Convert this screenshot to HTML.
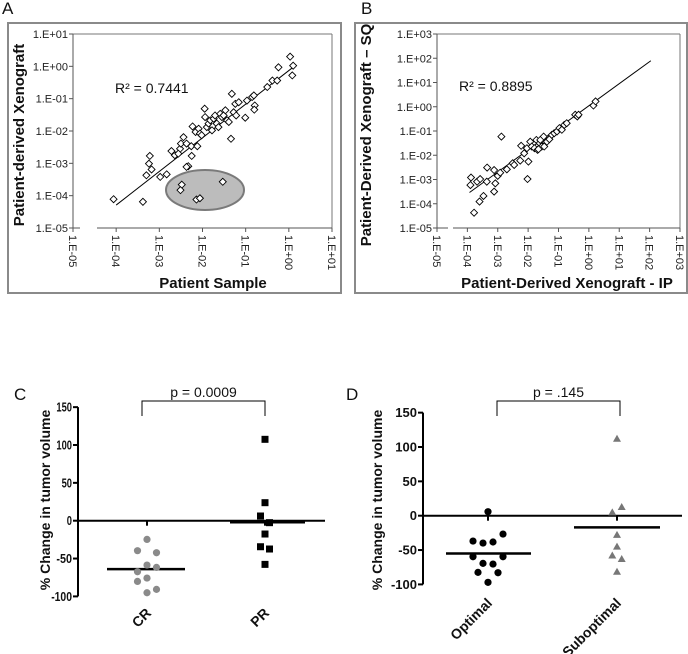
<!DOCTYPE html>
<html><head><meta charset="utf-8"><style>
html,body{margin:0;padding:0;background:#fff;width:688px;height:654px;overflow:hidden}
svg{font-family:"Liberation Sans",Arial,sans-serif}
</style></head><body>
<svg id="fig" width="688" height="654" viewBox="0 0 688 654" xmlns="http://www.w3.org/2000/svg">
<rect width="688" height="654" fill="#fff"/>
<g id="pa"></g>
<g id="pb"></g>
<g id="pc"></g>
<g id="pd"></g>
</svg>
<script>
// Panel A data (log10 values)
const aXLog=[-4.06,-3.38,-3.22,-3.24,-3.30,-3.18,-2.98,-2.83,-2.72,-2.64,-2.52,-2.50,-2.44,-2.56,-2.37,-2.26,-2.25,-2.12,-2.23,-2.16,-2.09,-2.06,-2.02,-1.95,-1.94,-1.90,-1.86,-1.82,-1.78,-1.74,-1.71,-1.67,-1.63,-1.59,-1.55,-1.51,-1.47,-1.43,-1.39,-1.32,-1.28,-1.34,-1.24,-1.22,-1.16,-1.01,-0.97,-0.85,-0.81,-0.79,-0.80,-0.50,-0.38,-0.27,-0.24,0.03,0.08,0.10,-2.33,-2.37,-2.48,-2.51,-2.14,-2.06,-1.53];
const aYLog=[-4.11,-4.19,-2.77,-3.01,-3.37,-3.19,-3.42,-3.34,-2.62,-2.75,-2.55,-2.39,-2.19,-2.70,-2.39,-2.47,-2.77,-2.47,-1.86,-2.03,-1.93,-2.08,-2.13,-1.31,-1.57,-1.88,-1.77,-1.67,-1.98,-1.62,-1.52,-1.77,-1.88,-1.47,-1.57,-1.52,-1.36,-1.67,-1.72,-0.85,-1.42,-2.24,-1.16,-1.52,-1.11,-1.59,-1.06,-0.95,-0.90,-1.21,-1.34,-0.64,-0.44,-0.44,-0.03,0.30,-0.28,0.02,-3.09,-3.11,-3.66,-3.83,-4.12,-4.08,-3.57];
const aFit=[1.04,-0.13];
const aFitRange=[-4.0,0.1];
const aXTicks=["1.E-05","1.E-04","1.E-03","1.E-02","1.E-01","1.E+00","1.E+01"];
const aYTicks=["1.E-05","1.E-04","1.E-03","1.E-02","1.E-01","1.E+00","1.E+01"];
// Panel B data (log10 values)
const bXLog=[-3.88,-3.90,-3.68,-3.58,-3.60,-3.47,-3.78,-3.36,-3.35,-3.12,-3.08,-3.12,-3.00,-2.92,-2.88,-2.70,-2.51,-2.46,-2.26,-2.23,-2.13,-2.04,-1.99,-2.02,-1.93,-1.88,-1.79,-1.73,-1.69,-1.62,-1.55,-1.49,-1.38,-1.30,-1.22,-1.14,-1.05,-0.97,-0.89,-0.81,-0.73,-0.45,-0.38,-0.34,0.15,0.22,-1.66,-1.60,-1.47];
const bYLog=[-2.92,-3.23,-3.09,-2.98,-3.91,-3.68,-4.37,-3.09,-2.51,-2.61,-3.16,-3.50,-2.85,-2.72,-1.23,-2.58,-2.33,-2.40,-2.22,-1.61,-1.92,-1.71,-2.26,-2.98,-1.44,-1.64,-1.71,-1.37,-1.78,-1.50,-1.64,-1.23,-1.44,-1.34,-1.16,-1.09,-1.02,-0.88,-0.95,-0.75,-0.68,-0.33,-0.40,-0.33,0.05,0.22,-1.75,-1.37,-1.64];
const bFit=[0.91,0.04];
const bFitRange=[-3.93,2.04];
const bXTicks=["1.E-05","1.E-04","1.E-03","1.E-02","1.E-01","1.E+00","1.E+01","1.E+02","1.E+03"];
const bYTicks=["1.E-05","1.E-04","1.E-03","1.E-02","1.E-01","1.E+00","1.E+01","1.E+02","1.E+03"];
// Panel C data
const cCategories=["CR","PR"];
const cCR=[-24.7,-39.6,-42.3,-58.6,-61.7,-67.4,-75.8,-80.2,-95.2,-90.7];
const cCRJitter=[0,-1,1,0,1,-1,0,-1,0,1];
const cPR=[107.5,23.8,6.2,-2.6,-17.6,-34.4,-37.4,-57.7];
const cPRJitter=[0,0,-1,1,0,-1,1,0];
const cMedians=[-64,-2];
// Panel D data
const dCategories=["Optimal","Suboptimal"];
const dOpt=[5.8,-26.7,-36.9,-39.8,-38.3,-59.7,-59.7,-69.4,-70.4,-82.5,-83,-97];
const dOptJitter=[0,1.5,-1.5,-0.5,0.5,-1.5,1.5,-0.5,0.5,-1,1,0];
const dSub=[112,12.6,4.9,-28,-45,-58,-63,-81.5];
const dSubJitter=[0,1,-1,0,0,-1,1,0];
const dMedians=[-55,-17];
const yTicksCD=[150,100,50,0,-50,-100];

const NS="http://www.w3.org/2000/svg";
function mk(parent,tag,attrs,txt){const e=document.createElementNS(NS,tag);for(const k in attrs)e.setAttribute(k,attrs[k]);if(txt!==undefined)e.textContent=txt;parent.appendChild(e);return e;}

function logPanel(g,o){
  mk(g,'rect',{x:o.box[0],y:o.box[1],width:o.box[2],height:o.box[3],fill:'none',stroke:'#8a8a8a','stroke-width':2});
  const sx=v=>o.x0+(v-o.xmin)/(o.xmax-o.xmin)*(o.x1-o.x0);
  const sy=v=>o.y1-(v-o.ymin)/(o.ymax-o.ymin)*(o.y1-o.y0);
  mk(g,'line',{x1:o.x1,y1:o.y0,x2:o.x1,y2:o.y1,stroke:'#777','stroke-width':1});
  mk(g,'line',{x1:o.x0,y1:o.y0,x2:o.x1,y2:o.y0,stroke:'#777','stroke-width':1});
  mk(g,'line',{x1:o.x0,y1:o.y0,x2:o.x0,y2:o.y1,stroke:'#555','stroke-width':1});
  mk(g,'line',{x1:o.x0,y1:o.y1,x2:o.gap[0],y2:o.y1,stroke:'#555','stroke-width':1});
  mk(g,'line',{x1:o.gap[1],y1:o.y1,x2:o.x1,y2:o.y1,stroke:'#555','stroke-width':1});
  o.yTicks.forEach((t,i)=>{const y=sy(o.ymin+i);
    const l=mk(g,'line',{x1:o.x0-4,y1:y,x2:o.x0,y2:y,stroke:'#555'});
    
    
    const tx=mk(g,'text',{x:o.x0-5,y:y+4,'text-anchor':'end','font-size':11,fill:'#222'},t);
    
    
  });
  o.xTicks.forEach((t,i)=>{const x=sx(o.xmin+i);
    const l=mk(g,'line',{x1:x,y1:o.y1,x2:x,y2:o.y1+4,stroke:'#555'});
    
    
    const tx=mk(g,'text',{x:0,y:0,'font-size':11,fill:'#222',transform:`translate(${x-4},${o.y1+7}) rotate(90)`},t);
    
    
  });
  if(o.ellipse){const e=mk(g,'ellipse',{cx:o.ellipse[0],cy:o.ellipse[1],rx:o.ellipse[2],ry:o.ellipse[3],fill:'#bcbcbc',stroke:'#7a7a7a','stroke-width':2});
    
    }
  const fl=mk(g,'line',{x1:sx(o.fr[0]),y1:sy(o.fit[0]*o.fr[0]+o.fit[1]),x2:sx(o.fr[1]),y2:sy(o.fit[0]*o.fr[1]+o.fit[1]),stroke:'#000','stroke-width':1});
  
  
  o.xs.forEach((xv,i)=>{const x=sx(xv),y=sy(o.ys[i]);
    const p=mk(g,'path',{d:`M${x},${y-3.5}L${x+3.5},${y}L${x},${y+3.5}L${x-3.5},${y}Z`,fill:'#fff',stroke:'#000','stroke-width':0.9});
    
    
  });
  const r=mk(g,'text',{x:o.r2[0],y:o.r2[1],'font-size':14,fill:'#111'},o.r2[2]);
  
  
  const xt=mk(g,'text',{x:o.xt[0],y:o.xt[1],'font-size':15,'font-weight':'bold','text-anchor':'middle',fill:'#111'},o.xt[2]);
  
  
  const yt=mk(g,'text',{x:0,y:0,'font-size':15,'font-weight':'bold','text-anchor':'middle',fill:'#111',transform:`translate(${o.yt[0]},${o.yt[1]}) rotate(-90)`},o.yt[2]);
  
  
  const pl=mk(g,'text',{x:o.lbl[0],y:o.lbl[1],'font-size':17,fill:'#111'},o.lbl[2]);
  
  
}

logPanel(document.getElementById('pa'),{box:[8,23,333,270],x0:73,x1:332,y0:34,y1:228,xmin:-5,xmax:1,ymin:-5,ymax:1,gap:[80,97],
  xs:aXLog,ys:aYLog,fit:aFit,fr:aFitRange,xTicks:aXTicks,yTicks:aYTicks,ellipse:[205,190,39,20],
  r2:[115,93,'R² = 0.7441'],xt:[213,288,'Patient Sample'],yt:[24,135,'Patient-derived Xenograft'],lbl:[2,14,'A']});
logPanel(document.getElementById('pb'),{box:[355,23,332,270],x0:437,x1:680,y0:34,y1:228,xmin:-5,xmax:3,ymin:-5,ymax:3,gap:[448,453],
  xs:bXLog,ys:bYLog,fit:bFit,fr:bFitRange,xTicks:bXTicks,yTicks:bYTicks,
  r2:[459,91,'R² = 0.8895'],xt:[567,288,'Patient-Derived Xenograft -  IP'],yt:[371,135,'Patient-Derived Xenograft – SQ'],lbl:[361,14,'B']});

function dotPanel(g,o){
  const sy=v=>o.yZero-v*o.k;
  mk(g,'line',{x1:o.ax,y1:sy(150),x2:o.ax,y2:sy(-100),stroke:'#000','stroke-width':2});
  yTicksCD.forEach(t=>{const y=sy(t);
    const l=mk(g,'line',{x1:o.ax-5,y1:y,x2:o.ax,y2:y,stroke:'#000','stroke-width':2});
    
    
    const tx=mk(g,'text',{x:o.ax-6,y:y+4.5,'text-anchor':'end','font-size':o.tfs,'font-weight':'bold',fill:'#111'},String(t));
    if(o.tlen){const s=String(t);tx.setAttribute('textLength',(s.length*o.tlen).toFixed(1));tx.setAttribute('lengthAdjust','spacingAndGlyphs');}
    
    
  });
  const z=mk(g,'line',{x1:o.ax,y1:sy(0),x2:o.zEnd,y2:sy(0),stroke:'#000','stroke-width':2});
  
  
  o.cx.forEach(x=>{mk(g,'line',{x1:x,y1:sy(0),x2:x,y2:sy(0)+5,stroke:'#000','stroke-width':2});});
  const b=mk(g,'path',{d:`M${o.br[0]},${o.br[3]}V${o.br[2]}H${o.br[1]}V${o.br[3]}`,fill:'none',stroke:'#000','stroke-width':1});
  
  
  const p=mk(g,'text',{x:(o.br[0]+o.br[1])/2,y:o.br[2]-4,'text-anchor':'middle','font-size':14,fill:'#111'},o.pText);
  
  
  o.meds.forEach((m,i)=>{const l=mk(g,'line',{x1:o.medX[i][0],y1:sy(m),x2:o.medX[i][1],y2:sy(m),stroke:'#000','stroke-width':2.5});
    
    });
  o.series.forEach((s,si)=>{s.vals.forEach((v,i)=>{const x=o.cx[si]+s.jit[i]*s.dx,y=sy(v);let e;
    if(s.shape==='circle')e=mk(g,'circle',{cx:x,cy:y,r:s.r,fill:s.color});
    else if(s.shape==='square')e=mk(g,'rect',{x:x-3.5,y:y-3.5,width:7,height:7,fill:s.color});
    else e=mk(g,'path',{d:`M${x},${y-4}L${x+4},${y+3}L${x-4},${y+3}Z`,fill:s.color});
    
    
  });});
  o.cats.forEach((c,i)=>{const t=mk(g,'text',{x:0,y:0,'text-anchor':'end','font-size':14,'font-weight':'bold',fill:'#111',transform:`translate(${o.cx[i]+5},${o.catY}) rotate(-45)`},c);
    
    });
  const yt=mk(g,'text',{x:0,y:0,'text-anchor':'middle','font-size':14,'font-weight':'bold',fill:'#111',transform:`translate(${o.yt[0]},${o.yt[1]}) rotate(-90)`},'% Change in tumor volume');
  
  
  const pl=mk(g,'text',{x:o.lbl[0],y:o.lbl[1],'font-size':17,fill:'#111'},o.lbl[2]);
  
  
}

dotPanel(document.getElementById('pc'),{ax:78,yZero:520.7,k:0.757,zEnd:325,cx:[147,265],br:[142,265,401,416],pText:'p = 0.0009',
  tfs:13,tlen:5.2,
  meds:cMedians,medX:[[107,185],[230,305]],cats:cCategories,catY:614,yt:[50,500],lbl:[14,400,'C'],
  series:[{vals:cCR,jit:cCRJitter,dx:9.5,shape:'circle',r:3.6,color:'#8a8a8a'},{vals:cPR,jit:cPRJitter,dx:4.5,shape:'square',color:'#000'}]});
dotPanel(document.getElementById('pd'),{ax:423,yZero:515.7,k:0.687,zEnd:682,cx:[488,617],br:[497,620,401,416],pText:'p = .145',
  tfs:13,tlen:0,
  meds:dMedians,medX:[[446,531],[574,660]],cats:dCategories,catY:604,yt:[382,500],lbl:[346,400,'D'],
  series:[{vals:dOpt,jit:dOptJitter,dx:10,shape:'circle',r:3.6,color:'#000'},{vals:dSub,jit:dSubJitter,dx:4.7,shape:'triangle',color:'#777'}]});
</script>
</body></html>
